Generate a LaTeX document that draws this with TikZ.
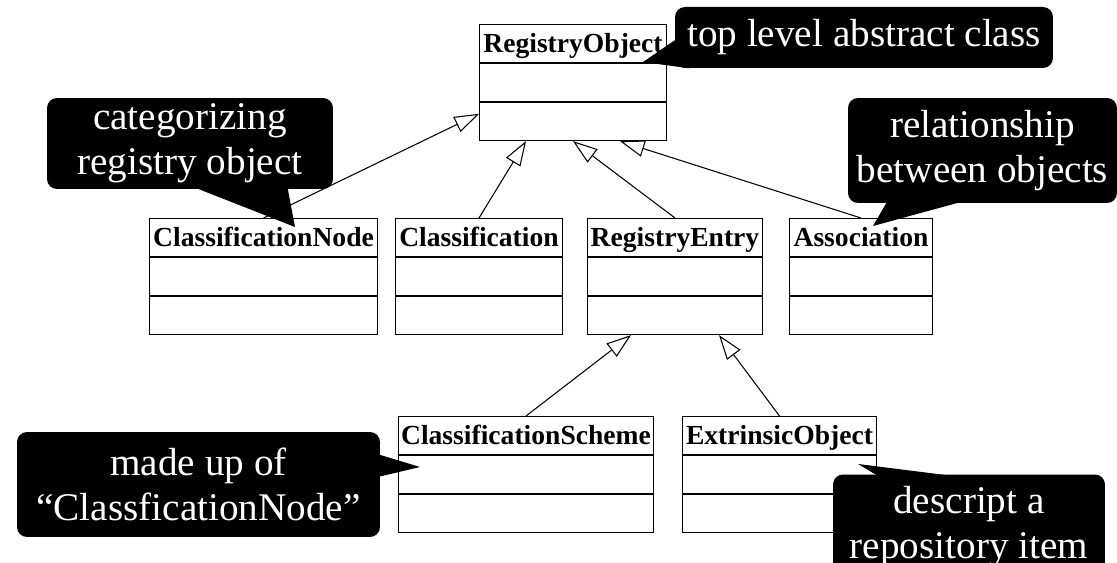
\documentclass[tikz,border=0pt]{standalone}
\usepackage{fontspec}
\setmainfont{Liberation Serif}
\usetikzlibrary{positioning,calc,arrows.meta}

\begin{document}
\begin{tikzpicture}[x=0.02cm, y=-0.02cm,
    classname/.style={draw, line width=0.6pt, minimum width=#1, minimum height=0.76cm, inner sep=0pt, anchor=north west, font=\fontsize{15.7}{18}\selectfont\bfseries, text height=10.5pt, text depth=0pt},
    compartment/.style={draw, line width=0.6pt, minimum width=#1, minimum height=0.76cm, inner sep=0pt},
    generalize/.style={-{Triangle[open, length=14pt, width=9.5pt]}, line width=0.6pt},
    note/.style={fill=black, text=white, rounded corners=0.2cm, align=center, inner sep=2pt, font=\fontsize{22.3}{25.5}\selectfont}]
    \useasboundingbox (0,0) rectangle (1117,563);
    \clip (0,0) rectangle (1117,563);

    % top class
    \node[classname=3.74cm] (ro) at (479,24) {RegistryObject};
    \node[compartment=3.74cm, below=0pt of ro] (ro-a) {};
    \node[compartment=3.74cm, below=0pt of ro-a] (ro-o) {};

    % second row
    \node[classname=4.56cm] (cn) at (149,218) {ClassificationNode};
    \node[compartment=4.56cm, below=0pt of cn] (cn-a) {};
    \node[compartment=4.56cm, below=0pt of cn-a] (cn-o) {};

    \node[classname=3.34cm] (cl) at (395,218) {Classification};
    \node[compartment=3.34cm, below=0pt of cl] (cl-a) {};
    \node[compartment=3.34cm, below=0pt of cl-a] (cl-o) {};

    \node[classname=3.5cm] (re) at (587,218) {RegistryEntry};
    \node[compartment=3.5cm, below=0pt of re] (re-a) {};
    \node[compartment=3.5cm, below=0pt of re-a] (re-o) {};

    \node[classname=2.86cm] (as) at (789,218) {Association};
    \node[compartment=2.86cm, below=0pt of as] (as-a) {};
    \node[compartment=2.86cm, below=0pt of as-a] (as-o) {};

    % third row
    \node[classname=5.1cm] (cs) at (398,416) {ClassificationScheme};
    \node[compartment=5.1cm, below=0pt of cs] (cs-a) {};
    \node[compartment=5.1cm, below=0pt of cs-a] (cs-o) {};

    \node[classname=3.88cm] (eo) at (682,416) {ExtrinsicObject};
    \node[compartment=3.88cm, below=0pt of eo] (eo-a) {};
    \node[compartment=3.88cm, below=0pt of eo-a] (eo-o) {};

    % generalizations
    \path[draw, generalize] (cn.north) -- ($(ro-o.north west)!0.3!(ro-o.south west)$);
    \path[draw, generalize] (cl.north) -- ($(ro-o.south west)!0.25!(ro-o.south east)$);
    \path[draw, generalize] (re.north) -- (ro-o.south);
    \path[draw, generalize] (as.north) -- ($(ro-o.south west)!0.75!(ro-o.south east)$);
    \path[draw, generalize] (cs.north) -- ($(re-o.south west)!0.25!(re-o.south east)$);
    \path[draw, generalize] (eo.north) -- ($(re-o.south west)!0.75!(re-o.south east)$);

    % callouts
    \node[note, minimum width=7.56cm, minimum height=1.22cm] (top) at (864,37.5) {top level abstract class};
    \node[note, minimum width=5.72cm, minimum height=1.82cm] (categ) at (190,143.5) {categorizing\\registry object};
    \node[note, minimum width=7.26cm, minimum height=2.1cm] (madeup) at (198.5,484.5) {made up of\\``ClassficationNode''};
    \node[note, minimum width=5.38cm, minimum height=2.1cm] (relat) at (982.5,150.5) {relationship\\between objects};
    \node[note, minimum width=5.44cm, minimum height=2.1cm] (descr) at (969,527) {descript a\\repository item};

    \coordinate (top-tip) at (643,62);
    \coordinate (categ-tip) at (295,227);
    \coordinate (madeup-tip) at (420,467);
    \coordinate (relat-tip) at (873,226);
    \coordinate (descr-tip) at (858,464);

    % pointers
    \path[fill=black] ($(top.south west)+(0,-28)$) -- (top-tip) -- ($(top.south west)+(15,0)$) -- cycle;
    \path[fill=black] ($(categ.south west)+(150,-1)$) -- (categ-tip) -- ($(categ.south west)+(241,-1)$) -- cycle;
    \path[fill=black] ($(madeup.north east)+(-1,23)$) -- (madeup-tip) -- ($(madeup.north east)+(-1,45)$) -- cycle;
    \path[fill=black] ($(relat.south west)+(39,-1)$) -- (relat-tip) -- ($(relat.south west)+(112,-1)$) -- cycle;
    \path[fill=black] ($(descr.north west)+(44,1)$) -- (descr-tip) -- ($(descr.north west)+(114,1)$) -- cycle;
\end{tikzpicture}
\end{document}
